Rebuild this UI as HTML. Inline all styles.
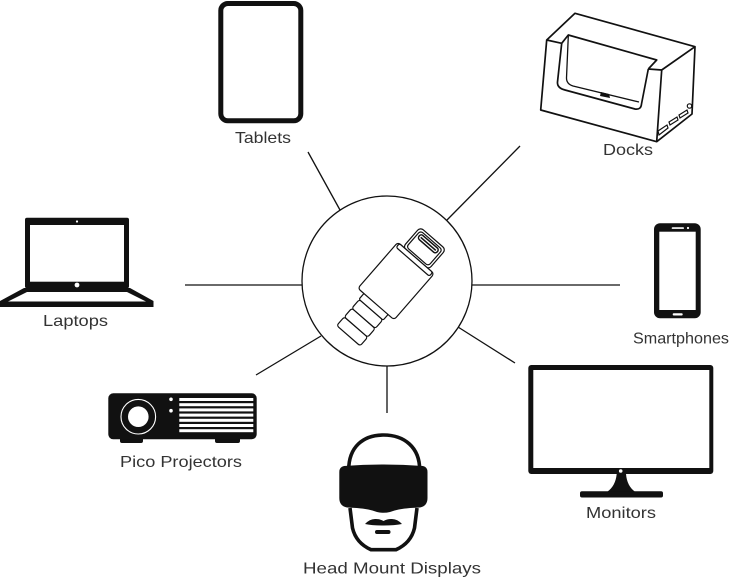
<!DOCTYPE html>
<html><head><meta charset="utf-8"><style>
html,body{margin:0;padding:0;background:#fff;}
svg{display:block;}
text{font-family:"Liberation Sans",sans-serif;font-size:16px;fill:#333;}
</style></head><body>
<svg width="735" height="578" viewBox="0 0 735 578" xmlns="http://www.w3.org/2000/svg">
<rect width="735" height="578" fill="#fff"/>
<!-- connector lines -->
<g stroke="#111" stroke-width="1.3" fill="none">
<line x1="308" y1="152" x2="340" y2="210"/>
<line x1="520" y1="146" x2="447" y2="220"/>
<line x1="185" y1="285" x2="302" y2="285"/>
<line x1="472" y1="285" x2="620" y2="285"/>
<line x1="256" y1="375" x2="321" y2="336"/>
<line x1="458" y1="327" x2="515" y2="363"/>
<line x1="387" y1="366" x2="387" y2="413"/>
<circle cx="387" cy="281" r="85"/>
</g>
<!-- USB-C connector -->
<g transform="translate(396,281) rotate(-49)" stroke="#111" stroke-width="1.2" fill="#fff">
<rect x="-72.5" y="-15.5" width="11.5" height="31" rx="2.5"/>
<rect x="-61" y="-15.5" width="11.5" height="31" rx="2.5"/>
<rect x="-49.5" y="-15.5" width="11.5" height="31" rx="2.5"/>
<rect x="-38" y="-16" width="8" height="32" rx="1.5"/>
<rect x="30" y="-17" width="26.5" height="34" rx="4"/>
<rect x="32.5" y="-14.5" width="21.5" height="29" rx="3"/>
<rect x="46.5" y="-12" width="5.5" height="24" rx="2.5" stroke-width="1.5"/>
<line x1="49.2" y1="-10" x2="49.2" y2="10" stroke-width="1.6"/>
<rect x="-30.5" y="-24" width="61" height="48" rx="3"/>
<rect x="25.5" y="-22" width="5" height="44" rx="2"/>
</g>
<!-- Tablet -->
<rect x="220.8" y="3.5" width="80" height="117.3" rx="7" fill="#fff" stroke="#111" stroke-width="5"/>
<!-- Dock -->
<g stroke="#111" stroke-width="1.7" fill="#fff" stroke-linejoin="round">
<path d="M575,13.3 L695,46.7 L692,114 L656.7,141.7 L540.7,110 L546.7,40 Z"/>
<path d="M695,46.7 L661.7,70 L656.7,141.7" fill="none"/>
<path d="M546.7,40 L561.7,43.3 M648.3,69 L661.7,70" fill="none"/>
<path d="M561.7,43.3 L557.5,82 Q557,88 565,90 L635,109 Q641,110 641.5,104 L648.3,69" fill="none"/>
<path d="M561.7,43.3 L568.3,35 L656.7,60 L648.3,69" fill="none"/>
<path d="M568.3,36 L566.5,78 Q566.5,84 573,86 L639,102" fill="none" stroke-width="1.3"/>
</g>
<path d="M601,92 L609,94 L610,98 L600,96 Z" fill="#111"/>
<g fill="none" stroke="#111" stroke-width="1.2">
<path d="M658,131 L667,125 L668,128 L659,135 Z"/>
<path d="M669,122 L677,117 L678,120 L670,125 Z"/>
<path d="M679,115 L687,110 L688,113 L680,118 Z"/>
<circle cx="689.5" cy="106" r="2.2"/>
</g>
<!-- Laptop -->
<rect x="25" y="217.7" width="104" height="70.6" rx="2" fill="#111"/>
<rect x="30" y="225" width="94" height="56.7" fill="#fff"/>
<circle cx="77" cy="221.5" r="1.1" fill="#fff"/>
<circle cx="77" cy="285" r="2.4" fill="#fff"/>
<path d="M24,288 L130,288 L153.5,301 L153.5,307 L0,307 L0,301 Z" fill="#111"/>
<path d="M27,292 L127,292 L146,301.5 L8,301.5 Z" fill="#fff"/>
<!-- Smartphone -->
<rect x="654" y="223.3" width="46.7" height="95" rx="6" fill="#111"/>
<rect x="659.3" y="231.7" width="36.4" height="78.3" fill="#fff"/>
<rect x="671.7" y="227.2" width="12.3" height="1.7" rx="0.8" fill="#fff"/>
<circle cx="688" cy="228" r="1.1" fill="#fff"/>
<rect x="672.7" y="313.3" width="10" height="2.2" rx="1" fill="#fff"/>
<!-- Monitor -->
<rect x="528.3" y="365" width="185" height="109" rx="3" fill="#111"/>
<rect x="533.3" y="370" width="176" height="98" fill="#fff"/>
<circle cx="620.7" cy="471" r="1.8" fill="#fff"/>
<path d="M616.7,474 L626,474 Q627,486 635,491.7 L607.3,491.7 Q615.5,486 616.7,474 Z" fill="#111"/>
<rect x="580" y="491.2" width="83" height="6.3" rx="2" fill="#111"/>
<!-- Pico projector -->
<rect x="120" y="436" width="23" height="7" rx="2" fill="#111"/>
<rect x="215" y="436" width="25" height="7" rx="2" fill="#111"/>
<rect x="108.3" y="393.3" width="148.4" height="46" rx="5" fill="#111"/>
<circle cx="138.3" cy="416.7" r="17.3" fill="none" stroke="#fff" stroke-width="1.1"/>
<circle cx="138.3" cy="416.7" r="10.3" fill="#fff"/>
<circle cx="171" cy="399.3" r="1.8" fill="#fff"/>
<circle cx="171" cy="410.7" r="1.8" fill="#fff"/>
<g fill="#fff">
<rect x="179.3" y="398" width="74" height="3"/>
<rect x="179.3" y="403.2" width="74" height="3"/>
<rect x="179.3" y="408.4" width="74" height="3"/>
<rect x="179.3" y="413.6" width="74" height="3"/>
<rect x="179.3" y="418.8" width="74" height="3"/>
<rect x="179.3" y="424" width="74" height="3"/>
<rect x="179.3" y="429.2" width="74" height="3"/>
</g>
<!-- Head mount -->
<path d="M348.7,470 C348.7,447 363,435 383.5,435 C404,435 419.7,447 419.7,470" fill="none" stroke="#111" stroke-width="3.6"/>
<path d="M350,508 L352.5,528 Q356,543 371,549.7 L396,549.7 Q411,543 414.5,528 L417,508" fill="none" stroke="#111" stroke-width="3.6" stroke-linejoin="round"/>
<path d="M344,466 Q383.5,463 423,466 Q427.5,467 427.5,472 L427.5,498 Q427.5,506 420,507.5 Q400,508 390,512 Q383.5,513.5 377,512 Q367,508 347,507.5 Q339.3,506 339.3,498 L339.3,472 Q339.3,467 344,466 Z" fill="#111"/>
<path d="M365,524 Q370,518.5 376,519 Q380,519 383.5,521 Q387,519 391,519 Q397,518.5 402,524 Q395,525.5 383.5,525.5 Q372,525.5 365,524 Z" fill="#111"/>
<rect x="375" y="530" width="15.5" height="4" rx="2" fill="#111"/>
<!-- Labels -->
<text x="235" y="143" textLength="56" lengthAdjust="spacingAndGlyphs">Tablets</text>
<text x="603" y="155" textLength="50" lengthAdjust="spacingAndGlyphs">Docks</text>
<text x="43" y="326" textLength="65" lengthAdjust="spacingAndGlyphs">Laptops</text>
<text x="633" y="343.5" textLength="96" lengthAdjust="spacingAndGlyphs">Smartphones</text>
<text x="586" y="518" textLength="70" lengthAdjust="spacingAndGlyphs">Monitors</text>
<text x="120" y="467" textLength="122" lengthAdjust="spacingAndGlyphs">Pico Projectors</text>
<text x="303" y="573.5" textLength="178" lengthAdjust="spacingAndGlyphs">Head Mount Displays</text>
</svg>
</body></html>
